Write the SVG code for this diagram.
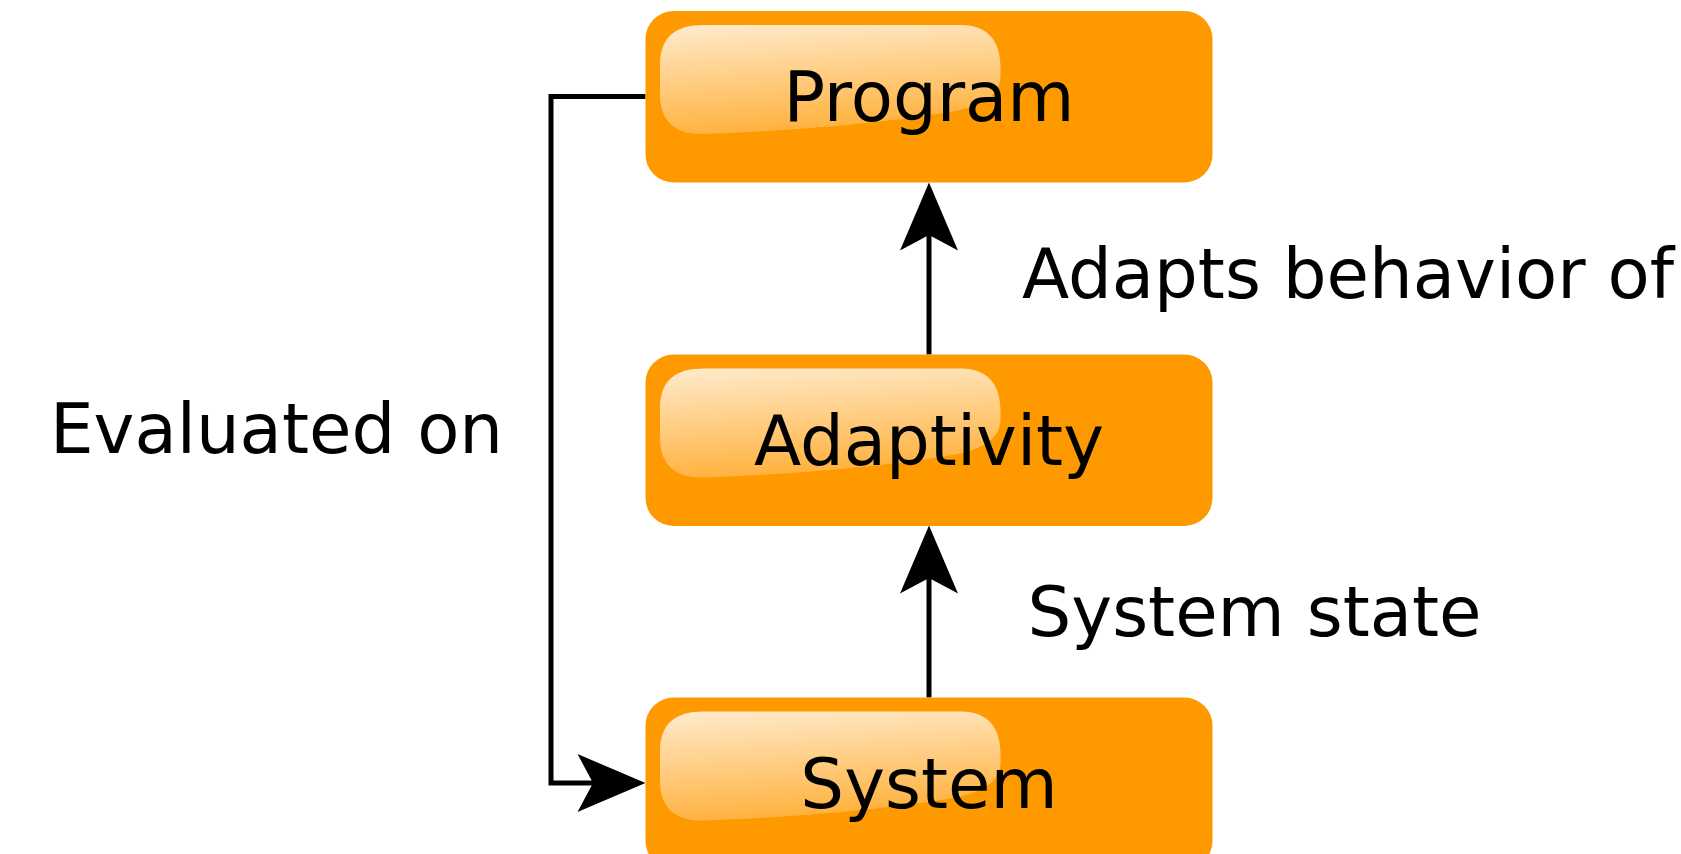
<svg xmlns="http://www.w3.org/2000/svg" width="1681" height="854" viewBox="0 0 1681 854">
  <style>
    .box { fill: #ff9900; }
    .gloss { fill: url(#glossGrad); }
    .label { font-family: "DejaVu Sans", "Liberation Sans", sans-serif; font-size: 69px; fill: #000000; }
    .node-label { text-anchor: middle; }
    .wire { fill: none; stroke: #000000; stroke-width: 5; marker-end: url(#arrowHead); }
  </style>
  <defs>
    <linearGradient id="glossGrad" x1="0.25" y1="0" x2="0.45" y2="1">
      <stop offset="0" stop-color="#ffffff" stop-opacity="0.78"/>
      <stop offset="1" stop-color="#ffffff" stop-opacity="0.22"/>
    </linearGradient>
    <!-- arrowhead: origin sits at the notch, tip is 52px ahead -->
    <marker id="arrowHead" markerUnits="userSpaceOnUse" viewBox="-20 -32 76 64" refX="0" refY="0" markerWidth="76" markerHeight="64" orient="auto" overflow="visible">
      <path d="M 52.5,0 L -15.5,-29 L 0,0 L -15.5,29 Z" fill="#000000"/>
    </marker>
    <!-- glossy highlight shared by every box -->
    <path id="glossShape" d="M 14.5,54 C 14.5,26 30,14 58,14 H 316 C 342,14 355,30 355,56 V 64 C 355,80 345,92 314,99 C 260,110 150,120 58,123 C 28,124 14.5,108 14.5,84 Z"/>
  </defs>

  <g id="connectors">
    <path class="wire" d="M 929,354.5 V 235"/>
    <path class="wire" d="M 929,697.5 V 578"/>
    <path class="wire" d="M 645.5,96.5 H 551 V 783 H 593"/>
  </g>

  <g id="node-program" transform="translate(645.5,11)">
    <rect class="box" x="0" y="0" width="567" height="171.5" rx="28" ry="28"/>
    <use href="#glossShape" class="gloss"/>
    <text class="label node-label" x="283.5" y="110">Program</text>
  </g>

  <g id="node-adaptivity" transform="translate(645.5,354.5)">
    <rect class="box" x="0" y="0" width="567" height="171.5" rx="28" ry="28"/>
    <use href="#glossShape" class="gloss"/>
    <text class="label node-label" x="283.5" y="110">Adaptivity</text>
  </g>

  <g id="node-system" transform="translate(645.5,697.5)">
    <rect class="box" x="0" y="0" width="567" height="171.5" rx="28" ry="28"/>
    <use href="#glossShape" class="gloss"/>
    <text class="label node-label" x="283.5" y="110">System</text>
  </g>

  <g id="edge-labels">
    <text class="label" x="1022" y="298">Adapts behavior of</text>
    <text class="label" x="50" y="453">Evaluated on</text>
    <text class="label" x="1027.5" y="636">System state</text>
  </g>
</svg>
